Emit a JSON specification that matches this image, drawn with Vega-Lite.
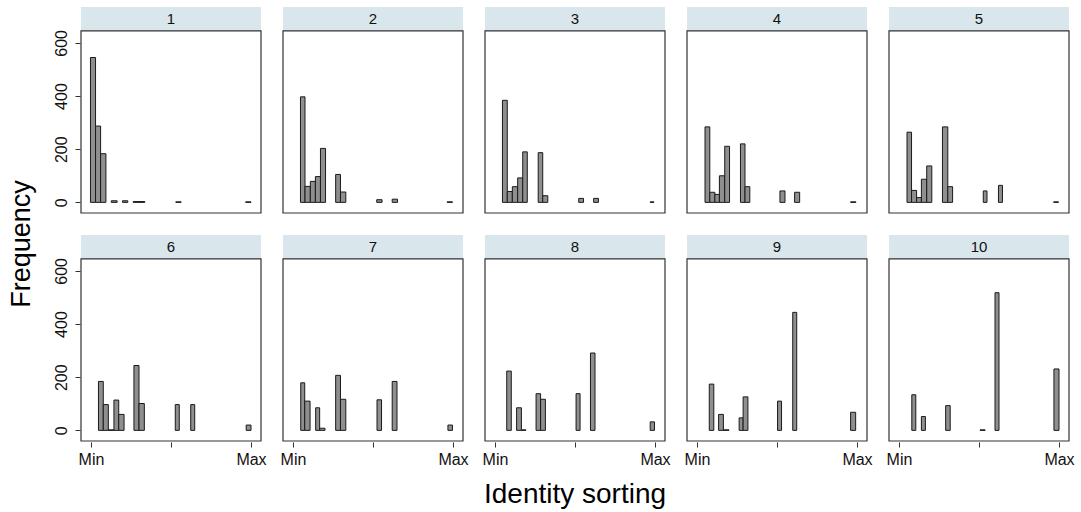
{
  "$schema": "https://vega.github.io/schema/vega-lite/v6.json",
  "padding": {"left": 8, "top": 7, "right": 5, "bottom": 5},
  "background": "white",
  "config": {"view": {"stroke": null}, "font": "Liberation Sans"},
  "title": {"text": "Frequency", "orient": "left", "anchor": "middle", "fontSize": 27, "font": "Liberation Sans", "fontWeight": "normal", "color": "#000", "offset": 17, "dx": 14},
  "data": {"values": [
    {"kind": "panel", "p": "1", "r": 1, "c": 1},
    {"kind": "panel", "p": "2", "r": 1, "c": 2},
    {"kind": "panel", "p": "3", "r": 1, "c": 3},
    {"kind": "panel", "p": "4", "r": 1, "c": 4},
    {"kind": "panel", "p": "5", "r": 1, "c": 5},
    {"kind": "panel", "p": "6", "r": 2, "c": 1},
    {"kind": "panel", "p": "7", "r": 2, "c": 2},
    {"kind": "panel", "p": "8", "r": 2, "c": 3},
    {"kind": "panel", "p": "9", "r": 2, "c": 4},
    {"kind": "panel", "p": "10", "r": 2, "c": 5},

    {"kind": "bar", "p": "1", "r": 1, "c": 1, "x0": -0.1, "x1": 0.85, "n": 545},
    {"kind": "bar", "p": "1", "r": 1, "c": 1, "x0": 0.85, "x1": 1.8, "n": 287},
    {"kind": "bar", "p": "1", "r": 1, "c": 1, "x0": 1.8, "x1": 2.8, "n": 183},
    {"kind": "bar", "p": "1", "r": 1, "c": 1, "x0": 3.8, "x1": 4.9, "n": 6},
    {"kind": "bar", "p": "1", "r": 1, "c": 1, "x0": 5.9, "x1": 6.9, "n": 6},
    {"kind": "bar", "p": "1", "r": 1, "c": 1, "x0": 7.9, "x1": 9.0, "n": 3},
    {"kind": "bar", "p": "1", "r": 1, "c": 1, "x0": 9.0, "x1": 10.1, "n": 3},
    {"kind": "bar", "p": "1", "r": 1, "c": 1, "x0": 15.9, "x1": 16.9, "n": 2},
    {"kind": "bar", "p": "1", "r": 1, "c": 1, "x0": 29.0, "x1": 30.0, "n": 2},

    {"kind": "bar", "p": "2", "r": 1, "c": 2, "x0": 1.4, "x1": 2.25, "n": 397},
    {"kind": "bar", "p": "2", "r": 1, "c": 2, "x0": 2.25, "x1": 3.25, "n": 60},
    {"kind": "bar", "p": "2", "r": 1, "c": 2, "x0": 3.25, "x1": 4.2, "n": 79},
    {"kind": "bar", "p": "2", "r": 1, "c": 2, "x0": 4.2, "x1": 5.15, "n": 97},
    {"kind": "bar", "p": "2", "r": 1, "c": 2, "x0": 5.15, "x1": 6.1, "n": 203},
    {"kind": "bar", "p": "2", "r": 1, "c": 2, "x0": 8.0, "x1": 8.9, "n": 105},
    {"kind": "bar", "p": "2", "r": 1, "c": 2, "x0": 8.9, "x1": 9.9, "n": 39},
    {"kind": "bar", "p": "2", "r": 1, "c": 2, "x0": 15.7, "x1": 16.7, "n": 10},
    {"kind": "bar", "p": "2", "r": 1, "c": 2, "x0": 18.6, "x1": 19.6, "n": 12},
    {"kind": "bar", "p": "2", "r": 1, "c": 2, "x0": 28.9, "x1": 29.9, "n": 2},

    {"kind": "bar", "p": "3", "r": 1, "c": 3, "x0": 1.4, "x1": 2.3, "n": 384},
    {"kind": "bar", "p": "3", "r": 1, "c": 3, "x0": 2.3, "x1": 3.25, "n": 41},
    {"kind": "bar", "p": "3", "r": 1, "c": 3, "x0": 3.25, "x1": 4.25, "n": 59},
    {"kind": "bar", "p": "3", "r": 1, "c": 3, "x0": 4.25, "x1": 5.2, "n": 92},
    {"kind": "bar", "p": "3", "r": 1, "c": 3, "x0": 5.2, "x1": 6.05, "n": 190},
    {"kind": "bar", "p": "3", "r": 1, "c": 3, "x0": 8.1, "x1": 8.95, "n": 187},
    {"kind": "bar", "p": "3", "r": 1, "c": 3, "x0": 8.95, "x1": 9.9, "n": 25},
    {"kind": "bar", "p": "3", "r": 1, "c": 3, "x0": 15.7, "x1": 16.6, "n": 15},
    {"kind": "bar", "p": "3", "r": 1, "c": 3, "x0": 18.5, "x1": 19.4, "n": 15},
    {"kind": "bar", "p": "3", "r": 1, "c": 3, "x0": 29.1, "x1": 29.8, "n": 2},

    {"kind": "bar", "p": "4", "r": 1, "c": 4, "x0": 1.5, "x1": 2.4, "n": 284},
    {"kind": "bar", "p": "4", "r": 1, "c": 4, "x0": 2.4, "x1": 3.35, "n": 38},
    {"kind": "bar", "p": "4", "r": 1, "c": 4, "x0": 3.35, "x1": 4.2, "n": 30},
    {"kind": "bar", "p": "4", "r": 1, "c": 4, "x0": 4.2, "x1": 5.2, "n": 100},
    {"kind": "bar", "p": "4", "r": 1, "c": 4, "x0": 5.2, "x1": 6.1, "n": 211},
    {"kind": "bar", "p": "4", "r": 1, "c": 4, "x0": 8.15, "x1": 9.0, "n": 220},
    {"kind": "bar", "p": "4", "r": 1, "c": 4, "x0": 9.0, "x1": 9.9, "n": 59},
    {"kind": "bar", "p": "4", "r": 1, "c": 4, "x0": 15.55, "x1": 16.5, "n": 43},
    {"kind": "bar", "p": "4", "r": 1, "c": 4, "x0": 18.3, "x1": 19.25, "n": 38},
    {"kind": "bar", "p": "4", "r": 1, "c": 4, "x0": 28.8, "x1": 29.8, "n": 2},

    {"kind": "bar", "p": "5", "r": 1, "c": 5, "x0": 1.5, "x1": 2.35, "n": 264},
    {"kind": "bar", "p": "5", "r": 1, "c": 5, "x0": 2.35, "x1": 3.3, "n": 45},
    {"kind": "bar", "p": "5", "r": 1, "c": 5, "x0": 3.3, "x1": 4.2, "n": 18},
    {"kind": "bar", "p": "5", "r": 1, "c": 5, "x0": 4.2, "x1": 5.2, "n": 87},
    {"kind": "bar", "p": "5", "r": 1, "c": 5, "x0": 5.2, "x1": 6.15, "n": 137},
    {"kind": "bar", "p": "5", "r": 1, "c": 5, "x0": 8.15, "x1": 9.15, "n": 284},
    {"kind": "bar", "p": "5", "r": 1, "c": 5, "x0": 9.15, "x1": 10.05, "n": 59},
    {"kind": "bar", "p": "5", "r": 1, "c": 5, "x0": 15.8, "x1": 16.5, "n": 43},
    {"kind": "bar", "p": "5", "r": 1, "c": 5, "x0": 18.65, "x1": 19.4, "n": 64},
    {"kind": "bar", "p": "5", "r": 1, "c": 5, "x0": 29.0, "x1": 29.9, "n": 2},

    {"kind": "bar", "p": "6", "r": 2, "c": 1, "x0": 1.4, "x1": 2.3, "n": 184},
    {"kind": "bar", "p": "6", "r": 2, "c": 1, "x0": 2.3, "x1": 3.25, "n": 97},
    {"kind": "bar", "p": "6", "r": 2, "c": 1, "x0": 3.25, "x1": 4.3, "n": 2},
    {"kind": "bar", "p": "6", "r": 2, "c": 1, "x0": 4.3, "x1": 5.2, "n": 114},
    {"kind": "bar", "p": "6", "r": 2, "c": 1, "x0": 5.2, "x1": 6.2, "n": 60},
    {"kind": "bar", "p": "6", "r": 2, "c": 1, "x0": 8.05, "x1": 9.0, "n": 244},
    {"kind": "bar", "p": "6", "r": 2, "c": 1, "x0": 9.0, "x1": 10.0, "n": 101},
    {"kind": "bar", "p": "6", "r": 2, "c": 1, "x0": 15.8, "x1": 16.55, "n": 97},
    {"kind": "bar", "p": "6", "r": 2, "c": 1, "x0": 18.7, "x1": 19.45, "n": 97},
    {"kind": "bar", "p": "6", "r": 2, "c": 1, "x0": 29.1, "x1": 30.0, "n": 20},

    {"kind": "bar", "p": "7", "r": 2, "c": 2, "x0": 1.45, "x1": 2.2, "n": 179},
    {"kind": "bar", "p": "7", "r": 2, "c": 2, "x0": 2.2, "x1": 3.2, "n": 110},
    {"kind": "bar", "p": "7", "r": 2, "c": 2, "x0": 4.25, "x1": 5.0, "n": 85},
    {"kind": "bar", "p": "7", "r": 2, "c": 2, "x0": 5.0, "x1": 6.0, "n": 8},
    {"kind": "bar", "p": "7", "r": 2, "c": 2, "x0": 8.0, "x1": 8.9, "n": 207},
    {"kind": "bar", "p": "7", "r": 2, "c": 2, "x0": 8.9, "x1": 9.9, "n": 117},
    {"kind": "bar", "p": "7", "r": 2, "c": 2, "x0": 15.75, "x1": 16.6, "n": 115},
    {"kind": "bar", "p": "7", "r": 2, "c": 2, "x0": 18.6, "x1": 19.5, "n": 184},
    {"kind": "bar", "p": "7", "r": 2, "c": 2, "x0": 29.05, "x1": 29.9, "n": 20},

    {"kind": "bar", "p": "8", "r": 2, "c": 3, "x0": 2.2, "x1": 3.05, "n": 223},
    {"kind": "bar", "p": "8", "r": 2, "c": 3, "x0": 4.05, "x1": 4.95, "n": 85},
    {"kind": "bar", "p": "8", "r": 2, "c": 3, "x0": 4.95, "x1": 5.8, "n": 2},
    {"kind": "bar", "p": "8", "r": 2, "c": 3, "x0": 7.7, "x1": 8.55, "n": 138},
    {"kind": "bar", "p": "8", "r": 2, "c": 3, "x0": 8.55, "x1": 9.45, "n": 117},
    {"kind": "bar", "p": "8", "r": 2, "c": 3, "x0": 15.2, "x1": 15.95, "n": 138},
    {"kind": "bar", "p": "8", "r": 2, "c": 3, "x0": 17.9, "x1": 18.75, "n": 291},
    {"kind": "bar", "p": "8", "r": 2, "c": 3, "x0": 29.1, "x1": 29.9, "n": 32},

    {"kind": "bar", "p": "9", "r": 2, "c": 4, "x0": 2.3, "x1": 3.15, "n": 174},
    {"kind": "bar", "p": "9", "r": 2, "c": 4, "x0": 4.05, "x1": 4.95, "n": 60},
    {"kind": "bar", "p": "9", "r": 2, "c": 4, "x0": 4.95, "x1": 6.0, "n": 2},
    {"kind": "bar", "p": "9", "r": 2, "c": 4, "x0": 7.9, "x1": 8.65, "n": 47},
    {"kind": "bar", "p": "9", "r": 2, "c": 4, "x0": 8.65, "x1": 9.55, "n": 126},
    {"kind": "bar", "p": "9", "r": 2, "c": 4, "x0": 15.1, "x1": 15.85, "n": 110},
    {"kind": "bar", "p": "9", "r": 2, "c": 4, "x0": 17.95, "x1": 18.7, "n": 444},
    {"kind": "bar", "p": "9", "r": 2, "c": 4, "x0": 28.8, "x1": 29.75, "n": 68},

    {"kind": "bar", "p": "10", "r": 2, "c": 5, "x0": 2.4, "x1": 3.15, "n": 134},
    {"kind": "bar", "p": "10", "r": 2, "c": 5, "x0": 4.2, "x1": 4.95, "n": 52},
    {"kind": "bar", "p": "10", "r": 2, "c": 5, "x0": 8.75, "x1": 9.6, "n": 93},
    {"kind": "bar", "p": "10", "r": 2, "c": 5, "x0": 15.2, "x1": 16.15, "n": 2},
    {"kind": "bar", "p": "10", "r": 2, "c": 5, "x0": 18.0, "x1": 18.75, "n": 518},
    {"kind": "bar", "p": "10", "r": 2, "c": 5, "x0": 29.05, "x1": 30.0, "n": 231}
  ]},
  "facet": {
    "row": {"field": "r", "type": "ordinal", "title": null,
      "header": {"labels": false}},
    "column": {"field": "c", "type": "ordinal", "title": "Identity sorting",
      "header": {"labels": false, "titleOrient": "bottom", "titleFontSize": 28, "titleFont": "Liberation Sans", "titleFontWeight": "normal", "titleColor": "#000", "titlePadding": 4}}
  },
  "spacing": {"row": 21, "column": 20},
  "spec": {
    "width": 180,
    "height": 206,
    "encoding": {
      "x": {"type": "quantitative"},
      "y": {"type": "quantitative"}
    },
    "layer": [
      {
        "transform": [{"filter": "datum.kind == 'panel'"}],
        "mark": {"type": "rect", "fill": "#D9E6EC", "stroke": null},
        "encoding": {
          "x": {"datum": -1.875, "type": "quantitative",
            "scale": {"domain": [-1.875, 31.875], "nice": false, "zero": false},
            "axis": {"values": [0, 15, 30], "labelExpr": "datum.value == 0 ? 'Min' : (datum.value == 30 ? 'Max' : '')", "title": null, "domain": false, "grid": false, "tickSize": 5, "tickColor": "#333", "labelFontSize": 16, "labelColor": "#111", "labelPadding": 4, "labelFlush": false, "labelOverlap": false}},
          "x2": {"datum": 31.875},
          "y": {"datum": 645, "type": "quantitative",
            "scale": {"domain": [-40, 735], "nice": false, "zero": false},
            "axis": {"values": [0, 200, 400, 600], "title": null, "domain": false, "grid": false, "tickSize": 5, "tickColor": "#333", "labelFontSize": 16, "labelColor": "#111", "labelAngle": -90, "labelPadding": 6, "labelOverlap": false, "labelFlush": false}},
          "y2": {"datum": 735}
        }
      },
      {
        "transform": [{"filter": "datum.kind == 'panel'"}],
        "mark": {"type": "text", "fontSize": 15, "color": "#111", "align": "center", "baseline": "middle", "font": "Liberation Sans"},
        "encoding": {
          "x": {"datum": 15, "type": "quantitative"},
          "y": {"datum": 690, "type": "quantitative"},
          "text": {"field": "p"}
        }
      },
      {
        "transform": [{"filter": "datum.kind == 'bar'"}],
        "mark": {"type": "rect", "fill": "#8F8F8F", "stroke": "#1A1A1A", "strokeWidth": 1},
        "encoding": {
          "x": {"field": "x0", "type": "quantitative"},
          "x2": {"field": "x1"},
          "y": {"field": "n", "type": "quantitative"},
          "y2": {"datum": 0}
        }
      },
      {
        "transform": [{"filter": "datum.kind == 'panel'"}],
        "mark": {"type": "rect", "fill": null, "fillOpacity": 0, "stroke": "#333", "strokeWidth": 1.2},
        "encoding": {
          "x": {"datum": -1.875, "type": "quantitative"},
          "x2": {"datum": 31.875},
          "y": {"datum": -40, "type": "quantitative"},
          "y2": {"datum": 645}
        }
      }
    ]
  }
}
